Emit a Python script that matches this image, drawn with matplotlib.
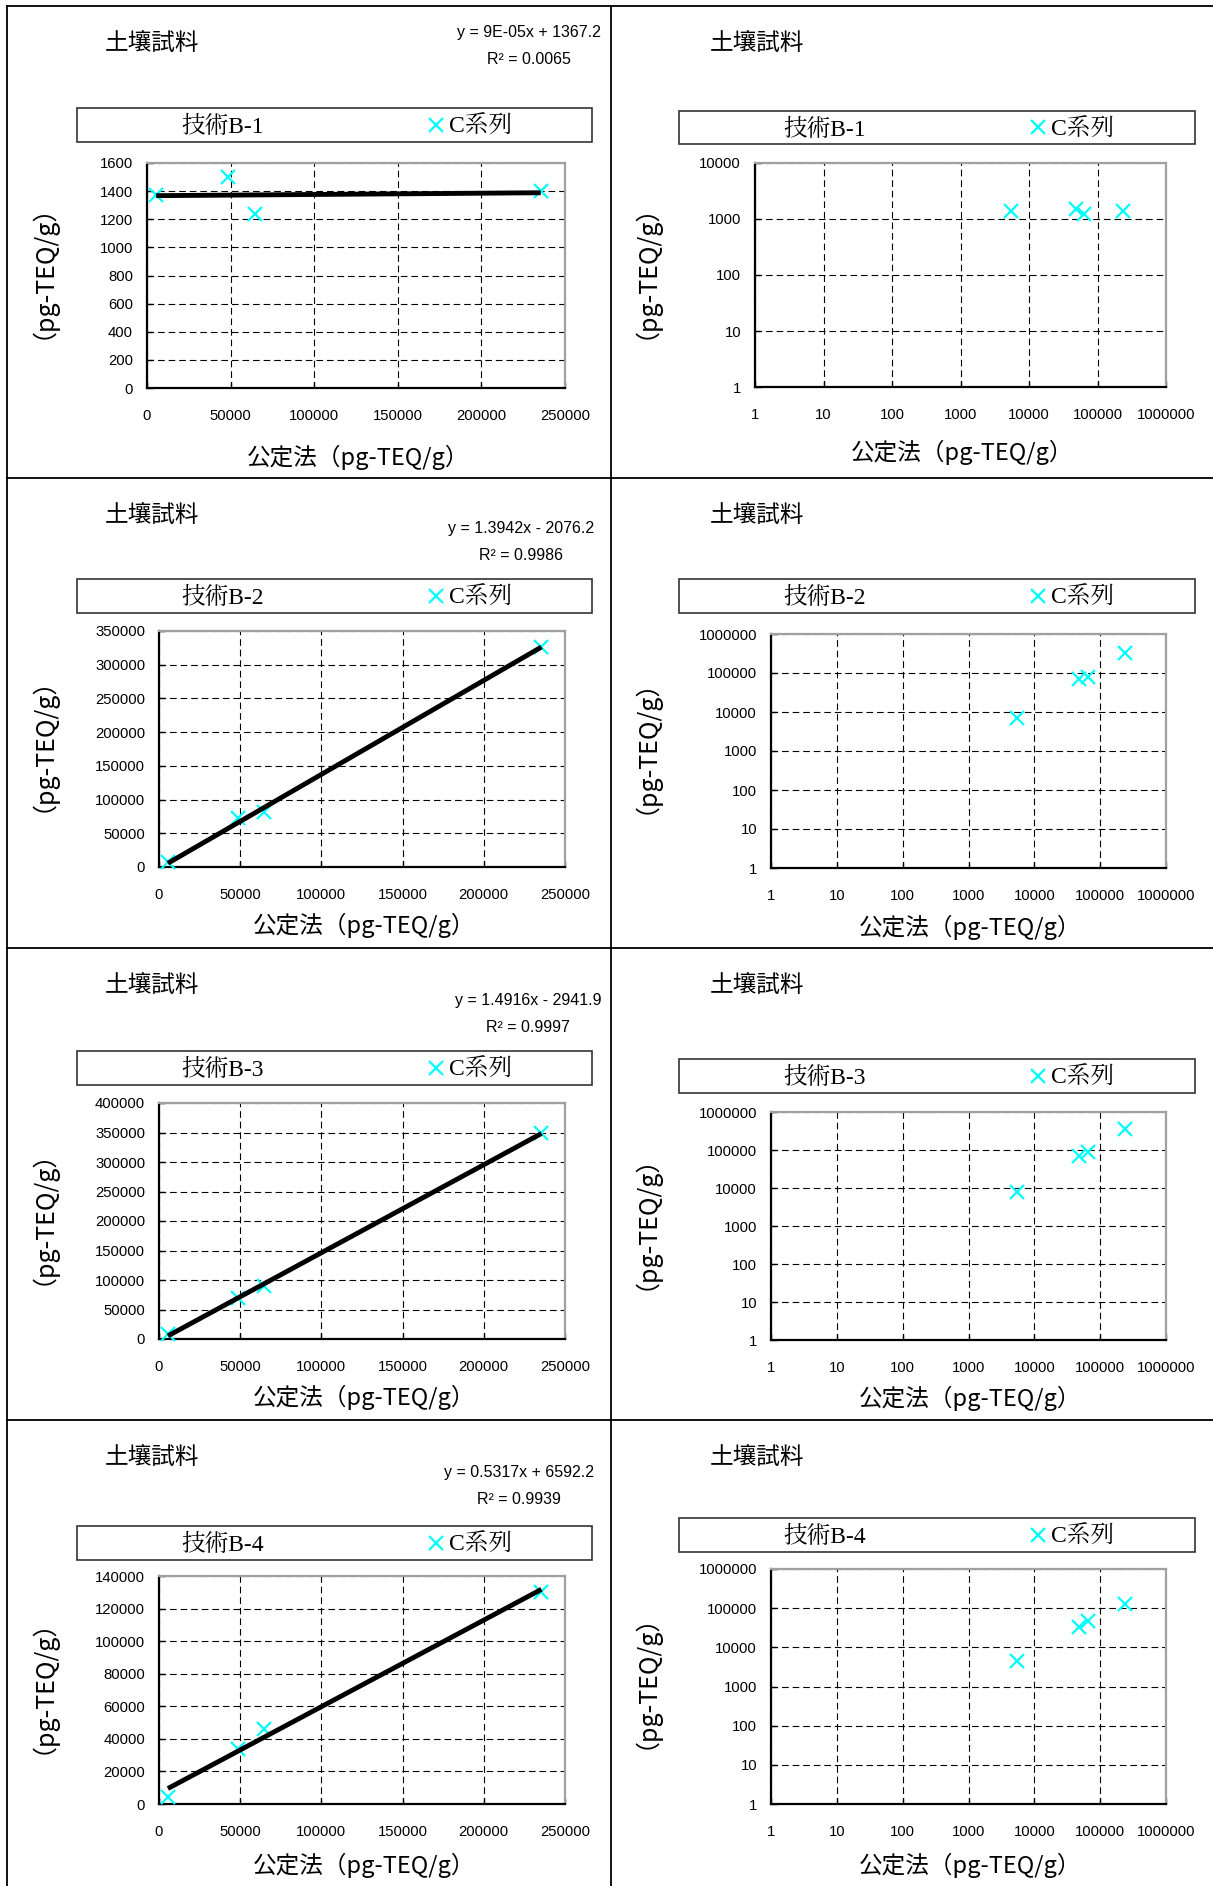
import numpy as np
import matplotlib
matplotlib.use("Agg")
import matplotlib.pyplot as plt
import matplotlib.font_manager as fm
from matplotlib.font_manager import FontProperties
from matplotlib.lines import Line2D
from matplotlib.patches import Rectangle
from matplotlib.ticker import FixedLocator, FuncFormatter

# ---------------- data ----------------
x_official = [5500, 48500, 64500, 235500]
y_b1 = [1370, 1500, 1235, 1400]
y_b2 = [7000, 72000, 81000, 327000]
y_b3 = [7900, 69000, 90000, 349000]
y_b4 = [4500, 34000, 46000, 130000]
tech_labels = ["技術B-1", "技術B-2", "技術B-3", "技術B-4"]
series_label = "C系列"
slopes = [9e-05, 1.3942, 1.4916, 0.5317]
intercepts = [1367.2, -2076.2, -2941.9, 6592.2]
eq_labels = ["y = 9E-05x + 1367.2", "y = 1.3942x - 2076.2",
             "y = 1.4916x - 2941.9", "y = 0.5317x + 6592.2"]
r2_labels = ["R² = 0.0065", "R² = 0.9986", "R² = 0.9997", "R² = 0.9939"]
lin_ymax = [1600, 350000, 400000, 140000]
lin_ystep = [200, 50000, 50000, 20000]
lin_xticks = [0, 50000, 100000, 150000, 200000, 250000]
log_ymax = [1e4, 1e6, 1e6, 1e6]
log_xticks = [1, 10, 100, 1000, 10000, 100000, 1000000]
panel_title = "土壤試料"
xlabel = "公定法（pg-TEQ/g）"
ylabel = "（pg-TEQ/g）"
y_series = [y_b1, y_b2, y_b3, y_b4]

# ---------------- fonts ----------------
CJK = "Noto Sans CJK JP"
names = {f.name for f in fm.fontManager.ttflist}
SERIF_CJK = "Noto Serif CJK JP" if "Noto Serif CJK JP" in names else CJK
if "Liberation Sans Narrow" in names:
    NUM_FAMILY, NUM_SCALE = "Liberation Sans Narrow", 1.2
else:
    NUM_FAMILY, NUM_SCALE = "Liberation Sans", 1.0


def num_fp(size):
    return FontProperties(family=[NUM_FAMILY, "DejaVu Sans"], size=size * NUM_SCALE)


plt.rcParams["font.family"] = [CJK, "DejaVu Sans"]

W, H = 1213, 1886
fig = plt.figure(figsize=(W / 100, H / 100), dpi=100)
fig.patch.set_facecolor("white")


def rect(x0, y0, x1, y1):
    return [x0 / W, 1 - y1 / H, (x1 - x0) / W, (y1 - y0) / H]


def fx(x):
    return x / W


def fy(y):
    return 1 - y / H


# table lines
for yy in [6, 478, 948, 1420]:
    fig.add_artist(Line2D([fx(7), 1.0], [fy(yy), fy(yy)], color="black", lw=1.3))
for xx in [7, 611]:
    fig.add_artist(Line2D([fx(xx), fx(xx)], [fy(6), 0.0], color="black", lw=1.3))

# layout per row (pixel coords)
rows = [
    dict(title_y=43, eq=(529, 32, 60),
         lbox=(77, 108, 592, 142), rbox=(679, 111, 1195, 144),
         lax=(147, 163, 565, 388), rax=(755, 163, 1166, 387),
         lyl=(44, 277), ryl=(647, 277), lxl=(358, 457), rxl=(962, 452)),
    dict(title_y=515, eq=(521, 528, 556),
         lbox=(77, 579, 592, 613), rbox=(679, 579, 1195, 613),
         lax=(159, 631, 565, 867), rax=(771, 634, 1166, 868),
         lyl=(44, 750), ryl=(647, 752), lxl=(364, 925), rxl=(970, 927)),
    dict(title_y=985, eq=(528, 1000, 1027),
         lbox=(77, 1051, 592, 1085), rbox=(679, 1059, 1195, 1093),
         lax=(159, 1103, 565, 1339), rax=(771, 1112, 1166, 1340),
         lyl=(44, 1223), ryl=(647, 1228), lxl=(364, 1397), rxl=(970, 1398)),
    dict(title_y=1457, eq=(519, 1472, 1499),
         lbox=(77, 1526, 592, 1560), rbox=(679, 1518, 1195, 1552),
         lax=(159, 1576, 565, 1804), rax=(771, 1569, 1166, 1804),
         lyl=(44, 1692), ryl=(647, 1687), lxl=(364, 1865), rxl=(970, 1865)),
]
YL_DX, YL_DY = -14, -18   # compensation for rotated CJK text box

CYAN = "#00FFFF"
GRID_KW = dict(color="black", lw=0.8, linestyle=(0, (6, 3.5)))


def style_axes(ax):
    ax.set_facecolor("white")
    for s in ("left", "bottom"):
        ax.spines[s].set_color("black")
        ax.spines[s].set_linewidth(1.6)
    for s in ("top", "right"):
        ax.spines[s].set_color("#a0a0a0")
        ax.spines[s].set_linewidth(1.6)
    ax.tick_params(axis="both", direction="in", length=4, width=1, colors="black")
    ax.tick_params(axis="x", pad=15)
    ax.tick_params(axis="y", pad=10)
    for lab in ax.get_xticklabels() + ax.get_yticklabels():
        lab.set_fontproperties(num_fp(10.7))
    ax.set_axisbelow(True)


def int_fmt(v, pos):
    return f"{int(round(v))}"


LEG_FP = FontProperties(family=["Liberation Serif", SERIF_CJK], size=17)


def draw_legend_box(ax, box, tech, center_x, marker_x, handle):
    x0, y0, x1, y1 = box
    fig.add_artist(Rectangle((fx(x0), fy(y1)), fx(x1) - fx(x0), fy(y0) - fy(y1),
                             transform=fig.transFigure, facecolor="none",
                             edgecolor="#333333", lw=1.2))
    cy = (y0 + y1) / 2 + 2
    fig.text(fx(center_x), fy(cy), tech, ha="center", va="center",
             fontproperties=LEG_FP)
    ax.legend([handle], [series_label], loc="center left",
              bbox_to_anchor=(fx(marker_x - 11.8), fy(cy)),
              bbox_transform=fig.transFigure, frameon=False,
              handlelength=1.0, handletextpad=0.05, borderpad=0,
              borderaxespad=0, prop=LEG_FP)


def ylab(pos):
    fig.text(fx(pos[0] + YL_DX), fy(pos[1] + YL_DY), ylabel, rotation=90,
             ha="center", va="center", fontsize=18)


for i, r in enumerate(rows):
    ys = y_series[i]
    # ---------------- left: linear ----------------
    ax = fig.add_axes(rect(*r["lax"]))
    ax.set_xlim(0, 250000)
    ax.set_ylim(0, lin_ymax[i])
    ax.xaxis.set_major_locator(FixedLocator(lin_xticks))
    ax.yaxis.set_major_locator(FixedLocator(np.arange(0, lin_ymax[i] + 1, lin_ystep[i])))
    ax.xaxis.set_major_formatter(FuncFormatter(int_fmt))
    ax.yaxis.set_major_formatter(FuncFormatter(int_fmt))
    ax.grid(True, **GRID_KW)
    h, = ax.plot(x_official, ys, linestyle="none", marker="x", ms=10, mew=1.6,
                 color=CYAN, zorder=3, clip_on=False)
    xl = np.array([min(x_official), max(x_official)], dtype=float)
    ax.plot(xl, slopes[i] * xl + intercepts[i], color="black", lw=3.5, zorder=4,
            solid_capstyle="butt")
    style_axes(ax)
    draw_legend_box(ax, r["lbox"], tech_labels[i], 223, 436, h)

    fig.text(fx(105), fy(r["title_y"]), panel_title, ha="left", va="center", fontsize=17)
    ex, ey1, ey2 = r["eq"]
    fig.text(fx(ex), fy(ey1), eq_labels[i], ha="center", va="center",
             fontproperties=num_fp(11.5))
    fig.text(fx(ex), fy(ey2), r2_labels[i], ha="center", va="center",
             fontproperties=num_fp(11.5))
    ylab(r["lyl"])
    fig.text(fx(r["lxl"][0]), fy(r["lxl"][1]), xlabel, ha="center", va="center",
             fontsize=17)

    # ---------------- right: log-log ----------------
    ax2 = fig.add_axes(rect(*r["rax"]))
    ax2.set_xscale("log")
    ax2.set_yscale("log")
    ax2.set_xlim(1, 1e6)
    ax2.set_ylim(1, log_ymax[i])
    ax2.xaxis.set_major_locator(FixedLocator(log_xticks))
    yt = [10 ** k for k in range(0, int(round(np.log10(log_ymax[i]))) + 1)]
    ax2.yaxis.set_major_locator(FixedLocator(yt))
    ax2.xaxis.set_minor_locator(FixedLocator([]))
    ax2.yaxis.set_minor_locator(FixedLocator([]))
    ax2.xaxis.set_major_formatter(FuncFormatter(int_fmt))
    ax2.yaxis.set_major_formatter(FuncFormatter(int_fmt))
    ax2.grid(True, **GRID_KW)
    h2, = ax2.plot(x_official, ys, linestyle="none", marker="x", ms=10, mew=1.6,
                   color=CYAN, zorder=3, clip_on=False)
    style_axes(ax2)
    draw_legend_box(ax2, r["rbox"], tech_labels[i], 825, 1038, h2)

    fig.text(fx(710), fy(r["title_y"]), panel_title, ha="left", va="center", fontsize=17)
    ylab(r["ryl"])
    fig.text(fx(r["rxl"][0]), fy(r["rxl"][1]), xlabel, ha="center", va="center",
             fontsize=17)

fig.savefig("out.png", dpi=100, facecolor="white")
